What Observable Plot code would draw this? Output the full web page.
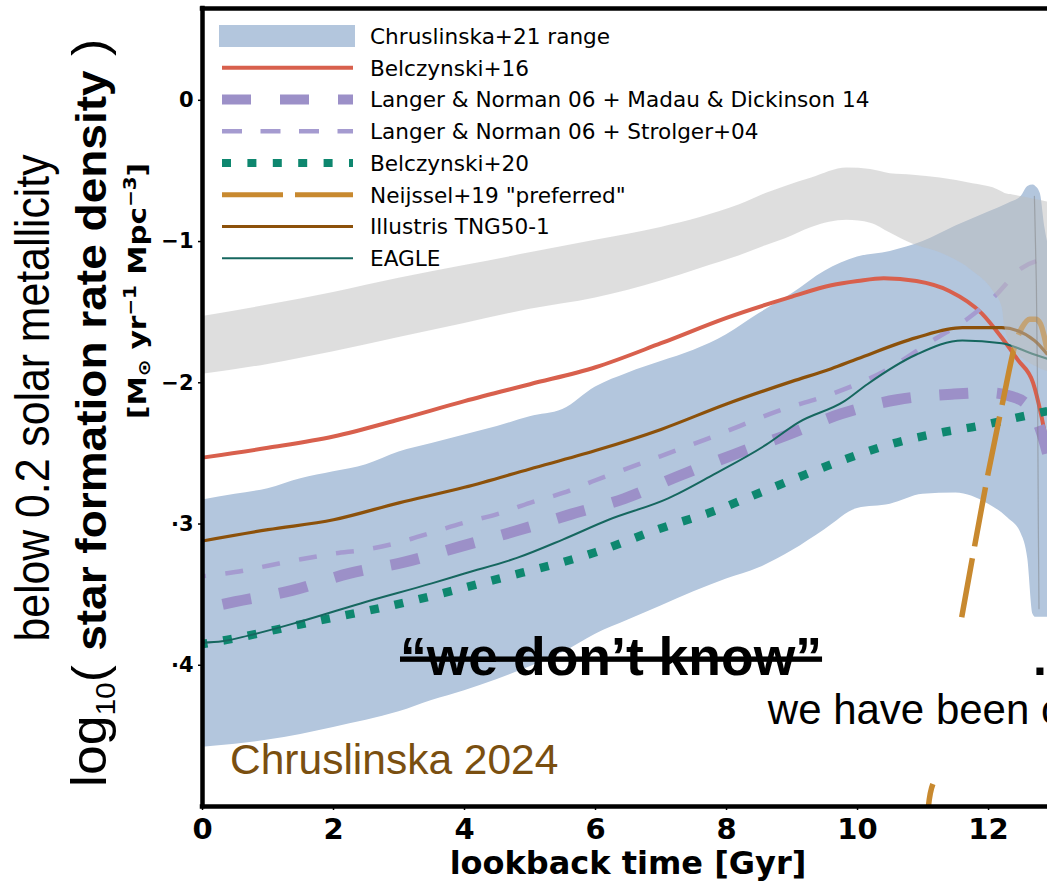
<!DOCTYPE html>
<html><head><meta charset="utf-8">
<script src="https://cdn.jsdelivr.net/npm/d3@7"></script>
<script src="https://cdn.jsdelivr.net/npm/@observablehq/plot@0.6"></script>
<style>
html,body{margin:0;padding:0;background:#fff;overflow:hidden}
#chart{position:relative;width:1047px;height:883px}
#chart svg [aria-label="x-axis tick label"] text{font-size:29px;font-weight:bold;font-family:"DejaVu Sans"}
#chart svg [aria-label="y-axis tick label"] text{font-size:21px;font-weight:bold;font-family:"DejaVu Sans"}
</style></head><body><div id="chart"></div>
<script>
// ---------------- data ----------------
const xDomain = [0, 12.9];
const yDomain = [-5.0, 0.65];
const xTicks = [0, 2, 4, 6, 8, 10, 12];
const yTicks = [0, -1, -2, -3, -4];
const yTickLabels = ["0", "\u22121", "\u22122", "\u00b73", "\u00b74"];

// Chruslinska+21 range (blue band)
const bandX  = [0, 0.5, 1, 1.5, 2, 2.5, 3, 3.5, 4, 4.5, 5, 5.5, 6, 6.5, 7, 7.5, 8, 8.5, 9, 9.5, 10, 10.5, 11, 11.5, 12, 12.3, 12.5, 12.6, 12.68, 12.72, 12.79, 12.86, 12.9];
const bandHi = [-2.83, -2.79, -2.75, -2.68, -2.63, -2.58, -2.49, -2.43, -2.37, -2.31, -2.24, -2.19, -2.03, -1.93, -1.85, -1.77, -1.66, -1.51, -1.37, -1.21, -1.11, -1.07, -1.00, -0.89, -0.79, -0.73, -0.68, -0.61, -0.60, -0.61, -0.66, -0.90, -1.00];
const bandLo = [-4.58, -4.56, -4.53, -4.49, -4.44, -4.39, -4.33, -4.25, -4.18, -4.10, -4.01, -3.91, -3.78, -3.68, -3.58, -3.48, -3.39, -3.31, -3.19, -3.04, -2.89, -2.86, -2.79, -2.78, -2.86, -2.96, -3.07, -3.25, -3.64, -3.66, -3.66, -3.66, -3.66];

// grey band
const greyX  = [0, 1, 2, 3, 4, 5, 6, 7, 7.6, 8.2, 8.6, 8.9, 9.3, 9.84, 10.2, 10.5, 10.85, 11.26, 11.76, 12.07, 12.21, 12.25, 12.37, 12.59, 12.79, 12.9];
const greyHi = [-1.53, -1.45, -1.36, -1.26, -1.17, -1.08, -0.99, -0.90, -0.83, -0.74, -0.66, -0.61, -0.55, -0.48, -0.49, -0.52, -0.53, -0.55, -0.59, -0.62, -0.65, -0.66, -0.67, -0.69, -0.71, -0.72];
const greyLo = [-1.94, -1.87, -1.78, -1.68, -1.58, -1.48, -1.40, -1.28, -1.19, -1.10, -1.03, -0.98, -0.90, -0.85, -0.87, -0.94, -1.02, -1.08, -1.21, -1.35, -1.47, -1.61, -1.75, -1.85, -1.90, -1.92];

// Belczynski+16
const b16X = [0, 1, 2, 3, 4, 5, 6, 7, 8, 9, 9.6, 10, 10.4, 10.9, 11.4, 11.9, 12.2, 12.45, 12.68, 12.8, 12.9];
const b16Y = [-2.53, -2.46, -2.38, -2.26, -2.13, -2.01, -1.89, -1.72, -1.54, -1.39, -1.31, -1.28, -1.26, -1.28, -1.35, -1.51, -1.68, -1.84, -2.00, -2.22, -2.46];
// Langer & Norman 06 + Madau & Dickinson 14
const mdX = [0, 0.5, 1.37, 2.24, 3.08, 3.93, 4.78, 5.63, 6.44, 7.27, 8.1, 8.92, 9.75, 10.6, 11.47, 12.0, 12.34, 12.6, 12.8, 12.9];
const mdY = [-3.60, -3.55, -3.47, -3.35, -3.27, -3.16, -3.05, -2.93, -2.82, -2.66, -2.51, -2.37, -2.22, -2.12, -2.08, -2.07, -2.095, -2.16, -2.34, -2.50];
// Langer & Norman 06 + Strolger+04
const stX = [0, 0.5, 1, 1.5, 2, 2.5, 3, 3.5, 4, 4.5, 5, 5.5, 6, 6.7, 7.8, 8.85, 9.6, 10.4, 11.15, 11.7, 12.1, 12.5, 12.9];
const stY = [-3.37, -3.34, -3.295, -3.25, -3.21, -3.18, -3.13, -3.06, -2.99, -2.93, -2.85, -2.78, -2.69, -2.57, -2.38, -2.19, -2.08, -1.92, -1.70, -1.54, -1.385, -1.19, -1.12];
// Belczynski+20
const b20X = [0, 0.37, 1.5, 3.0, 4.5, 6.0, 7.0, 7.8, 8.5, 9.2, 10, 10.7, 11.3, 11.8, 12.6, 12.9];
const b20Y = [-3.85, -3.82, -3.71, -3.565, -3.39, -3.20, -3.03, -2.91, -2.78, -2.65, -2.51, -2.41, -2.35, -2.31, -2.23, -2.20];
// Neijssel+19 "preferred" (hidden between -3.66 and -4.84 by the slide's text box)
const nX = [11.05, 11.08, 11.15, 11.37, 11.59, 11.75, 11.99, 12.21, 12.44, 12.51, 12.63, 12.72, 12.79, 12.9];
const nY = [-5.2, -5.01, -4.84, NaN, -3.66, -3.25, -2.65, -2.15, -1.68, -1.61, -1.55, -1.55, -1.58, -1.78];
// Illustris TNG50-1
const tngX = [0, 1, 2, 3, 4, 5, 6, 7, 8, 9, 9.6, 10, 10.9, 11.6, 12.2, 12.7, 12.9];
const tngY = [-3.12, -3.04, -2.97, -2.85, -2.74, -2.61, -2.48, -2.33, -2.15, -1.99, -1.90, -1.83, -1.68, -1.61, -1.61, -1.70, -1.80];
// EAGLE
const eaX = [0, 0.3, 0.7, 1.5, 2.5, 3.5, 4, 4.8, 5.5, 6.2, 7.1, 7.8, 8.6, 9.1, 9.8, 10.15, 10.9, 11.6, 12.2, 12.7, 12.9];
const eaY = [-3.84, -3.83, -3.79, -3.69, -3.55, -3.42, -3.35, -3.24, -3.11, -2.97, -2.82, -2.65, -2.44, -2.28, -2.13, -2.01, -1.80, -1.70, -1.72, -1.80, -1.83];
// faint grey model line at the right edge
const fX = [12.70, 12.73, 12.75, 12.76, 12.77];
const fY = [-0.68, -1.30, -2.20, -3.00, -3.60];

const legendLabels = ["Chruslinska+21 range", "Belczynski+16", "Langer & Norman 06 + Madau & Dickinson 14",
  "Langer & Norman 06 + Strolger+04", "Belczynski+20", "Neijssel+19 \"preferred\"", "Illustris TNG50-1", "EAGLE"];

const annotations = [
  {x: 3.015, y: -4.07, text: "\u201cwe don\u2019t know\u201d"},
  {x: 12.68, y: -4.07, text: "..."},
  {x: 8.63, y: -4.418, text: "we have been c"},
  {x: 0.42, y: -4.77, text: "Chruslinska 2024"}
];

// ---------------- styles ----------------
const BLUE = "#b3c6dd";
const series = [
  {key: "b16", xs: b16X, ys: b16Y, stroke: "#d8604d", w: 4,   dash: null,        off: 0,  ldash: null},
  {key: "md",  xs: mdX,  ys: mdY,  stroke: "#9c90c8", w: 11,  dash: "29,28.6",   off: 37, ldash: "29,29"},
  {key: "st",  xs: stX,  ys: stY,  stroke: "#a59bd0", w: 4.5, dash: "18,19.5",   off: 14.5, ldash: "20,18.5"},
  {key: "b20", xs: b20X, ys: b20Y, stroke: "#0e876f", w: 8.5, dash: "9,16",      off: 4,  ldash: "9,16.4"},
  {key: "n19", xs: nX,   ys: nY,   stroke: "#c8892f", w: 5.5, dash: "60,12",     off: 0,  ldash: "61,12"},
  {key: "tng", xs: tngX, ys: tngY, stroke: "#8c510a", w: 3.2, dash: null,        off: 0,  ldash: null},
  {key: "ea",  xs: eaX,  ys: eaY,  stroke: "#16675f", w: 2,   dash: null,        off: 0,  ldash: null}
];

const rows = (xs, ys) => xs.map((x, i) => ({x, y: ys[i]}));
const bandT = bandX.map((x, i) => ({x, lo: bandLo[i], hi: bandHi[i]}));
const greyT = greyX.map((x, i) => ({x, lo: greyLo[i], hi: greyHi[i]}));

const lineMarks = series.map(s => Plot.line(rows(s.xs, s.ys), {
  x: "x", y: "y", stroke: s.stroke, strokeWidth: s.w,
  strokeDasharray: s.dash || undefined, strokeDashoffset: s.off,
  strokeLinecap: "butt", strokeLinejoin: "round",
  curve: "monotone-x", clip: true
}));

const plot = Plot.plot({
  width: 1047, height: 883,
  marginLeft: 202, marginRight: 0, marginTop: 8, marginBottom: 77,
  x: {domain: xDomain},
  y: {domain: yDomain},
  style: {fontFamily: "DejaVu Sans", background: "white", color: "black", overflow: "hidden"},
  marks: [
    Plot.areaY(bandT, {x: "x", y1: "lo", y2: "hi", fill: BLUE, curve: "monotone-x", clip: true}),
    ...lineMarks,
    Plot.areaY(greyT, {x: "x", y1: "lo", y2: "hi", fill: "#bdbdbd", fillOpacity: 0.5, curve: "monotone-x", clip: true}),
    Plot.line(rows(fX, fY), {x: "x", y: "y", stroke: "#777", strokeWidth: 1.2, strokeOpacity: 0.45, curve: "monotone-y"}),
    Plot.ruleX([xDomain[0]], {stroke: "black", strokeWidth: 4.5, strokeLinecap: "square"}),
    Plot.ruleY(yDomain, {stroke: "black", strokeWidth: 4.5, strokeLinecap: "square"}),
    Plot.axisX({ticks: xTicks, tickSize: 4, tickPadding: 8, fontSize: 29, fontWeight: "bold", label: null, strokeWidth: 1.5}),
    Plot.axisY({ticks: yTicks, tickSize: 4, tickPadding: 5, fontSize: 21, fontWeight: "bold", label: null, strokeWidth: 1.5,
      tickFormat: d => yTickLabels[yTicks.indexOf(d)]}),
    Plot.text([annotations[0]], {x: "x", y: "y", text: "text", textAnchor: "start", lineAnchor: "bottom",
      fontFamily: "Liberation Sans", fontWeight: "bold", fontSize: 53.5, fill: "black"}),
    Plot.text([annotations[1]], {x: "x", y: "y", text: "text", textAnchor: "start", lineAnchor: "bottom",
      fontFamily: "Liberation Sans", fontWeight: "bold", fontSize: 50, fill: "black"}),
    Plot.text([annotations[2]], {x: "x", y: "y", text: "text", textAnchor: "start", lineAnchor: "bottom",
      fontFamily: "Liberation Sans", fontSize: 42, fill: "black"}),
    Plot.text([annotations[3]], {x: "x", y: "y", text: "text", textAnchor: "start", lineAnchor: "bottom",
      fontFamily: "Liberation Sans", fontSize: 42.5, fill: "#7a4f10"})
  ]
});
document.getElementById("chart").appendChild(plot);

const svg = d3.select(plot);
// strike-through on the quote
svg.selectAll("text").filter(function () { return this.textContent === annotations[0].text; })
  .style("text-decoration", "line-through");

// ---- y labels ----
const g = svg.append("g").attr("fill", "black");
g.append("text")
  .attr("transform", "translate(49,398) rotate(-90)")
  .attr("text-anchor", "middle").attr("font-family", "Liberation Sans").attr("font-size", 48)
  .attr("textLength", 487).attr("lengthAdjust", "spacingAndGlyphs")
  .text("below 0.2 solar metallicity");

const t2 = g.append("text")
  .attr("transform", "translate(106,413) rotate(-90)")
  .attr("text-anchor", "middle").attr("font-family", "Liberation Sans")
  .attr("textLength", 748).attr("lengthAdjust", "spacingAndGlyphs");
t2.append("tspan").attr("font-size", 50).text("log");
t2.append("tspan").attr("font-size", 28).attr("dy", 9).text("10");
t2.append("tspan").attr("font-size", 48).attr("dy", -9).text("( ");
t2.append("tspan").attr("font-size", 43).attr("font-weight", "bold").text("star formation rate density");
t2.append("tspan").attr("font-size", 48).text(" )");

const t3 = g.append("text")
  .attr("transform", "translate(146,291) rotate(-90)")
  .attr("text-anchor", "middle").attr("font-family", "DejaVu Sans").attr("font-weight", "bold")
  .attr("font-size", 25).attr("textLength", 256).attr("lengthAdjust", "spacingAndGlyphs");
t3.append("tspan").text("[M");
t3.append("tspan").attr("font-size", 17).attr("dy", 4).text("\u2299");
t3.append("tspan").attr("dy", -4).text(" yr");
t3.append("tspan").attr("font-size", 17).attr("dy", -10).text("\u22121");
t3.append("tspan").attr("dy", 10).text(" Mpc");
t3.append("tspan").attr("font-size", 17).attr("dy", -10).text("\u22123");
t3.append("tspan").attr("dy", 10).text("]");

// ---- x label ----
g.append("text").attr("x", 628).attr("y", 874).attr("text-anchor", "middle")
  .attr("font-family", "DejaVu Sans").attr("font-weight", "bold").attr("font-size", 32)
  .text("lookback time [Gyr]");

// ---- legend ----
const leg = svg.append("g").attr("font-family", "DejaVu Sans").attr("font-size", 21.6).attr("text-anchor", "start");
legendLabels.forEach((lab, i) => {
  const cy = 36 + i * 31.75;
  if (i === 0) {
    leg.append("rect").attr("x", 219).attr("y", cy - 11).attr("width", 136).attr("height", 22).attr("fill", BLUE);
  } else {
    const s = series[i - 1];
    leg.append("line").attr("x1", 222).attr("x2", 353).attr("y1", cy).attr("y2", cy)
      .attr("stroke", s.stroke).attr("stroke-width", s.key === "md" ? 10 : s.key === "b20" ? 8 : s.key === "n19" ? 5 : s.w)
      .attr("stroke-dasharray", s.ldash || null);
  }
  leg.append("text").attr("x", 370).attr("y", cy).attr("dy", "0.36em").attr("text-anchor", "start")
    .attr("fill", "black").text(lab);
});
</script></body></html>
